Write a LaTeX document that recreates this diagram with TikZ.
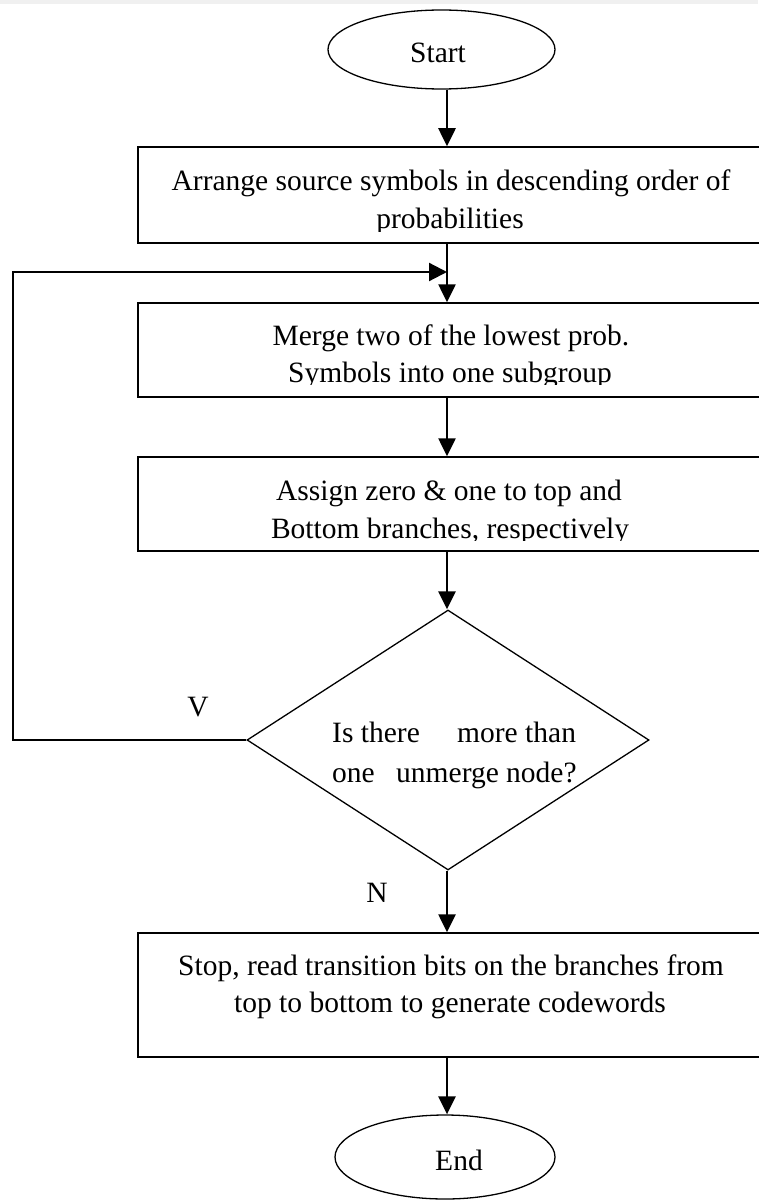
\documentclass[tikz,border=0pt]{standalone}
\usepackage{fontspec}
\setmainfont{Liberation Serif}
\usetikzlibrary{shapes.geometric,arrows.meta}
\begin{document}
\begin{tikzpicture}[x=1pt,y=-1pt,
  box/.style={draw,line width=1.5pt,minimum width=624pt,inner sep=0pt},
  oval/.style={draw,ellipse,line width=1.3pt,inner sep=0pt},
  decision/.style={draw,diamond,line width=1.3pt,inner sep=0pt,minimum width=402pt,minimum height=260pt},
  txt/.style={font=\fontsize{29.5}{35}\selectfont,inner sep=0pt,anchor=base},
  txtw/.style={txt,anchor=base west},
  arr/.style={line width=2.6pt,-{Triangle[length=18pt,width=17pt]}},
  loopline/.style={line width=2.2pt,-{Triangle[length=18pt,width=18pt]}}
]
\useasboundingbox (0,0) rectangle (758,1201);
\fill[black!6] (0,0) rectangle (758,4);

% shapes
\node[oval,minimum width=227pt,minimum height=79pt] (start) at (441.5,49.5) {};
\node[box,minimum height=96pt] (box1) at (450,195) {};
\node[box,minimum height=94pt] (box2) at (450,350) {};
\node[box,minimum height=94pt] (box3) at (450,504) {};
\node[decision] (dia) at (448,740) {};
\node[box,minimum height=124pt] (box4) at (450,995) {};
\node[oval,minimum width=220pt,minimum height=84pt] (end) at (445,1157) {};

% texts
\node[txt] (ts) at (438,63) {Start};
\node[txt] (t1a) at (451,190) {Arrange source symbols in descending order of};
\begin{scope}
\clip (0,0) rectangle (758,231);
\node[txt] (t1b) at (450,228) {probabilities};
\end{scope}
\node[txt] (t2a) at (451,345) {Merge two of the lowest prob.};
\begin{scope}
\clip (0,0) rectangle (758,384);
\node[txt] (t2b) at (450,382) {Symbols into one subgroup};
\end{scope}
\node[txt] (t3a) at (449,500) {Assign zero \& one to top and};
\begin{scope}
\clip (0,0) rectangle (758,540);
\node[txt] (t3b) at (450,538) {Bottom branches, respectively};
\end{scope}
\node[txtw] (d1) at (332,742) {Is there};
\node[txtw] (d2) at (457,742) {more than};
\node[txtw] (d3) at (332,782) {one};
\node[txtw] (d4) at (396,782) {unmerge node?};
\node[txt] (t4a) at (451,975) {Stop, read transition bits on the branches from};
\node[txt] (t4b) at (450,1012) {top to bottom to generate codewords};
\node[txt] (te) at (459,1170) {End};
\node[txt] (ly) at (198,716) {V};
\node[txt] (ln) at (377,902) {N};

% connectors
\coordinate (axis) at (447,0);
\coordinate (lc) at (13,272);
\coordinate (lj) at (447,272);
\draw[arr] (start.south -| axis) -- (box1.north -| axis);
\draw[arr] (box1.south -| axis) -- (box2.north -| axis);
\draw[arr] (box2.south -| axis) -- (box3.north -| axis);
\draw[arr] (box3.south -| axis) -- (dia.north -| axis);
\draw[loopline] (dia.west) -| (lc) -- (lj);
\draw[arr] (dia.south -| axis) -- (box4.north -| axis);
\draw[arr] (box4.south -| axis) -- (end.north -| axis);
\end{tikzpicture}
\end{document}
